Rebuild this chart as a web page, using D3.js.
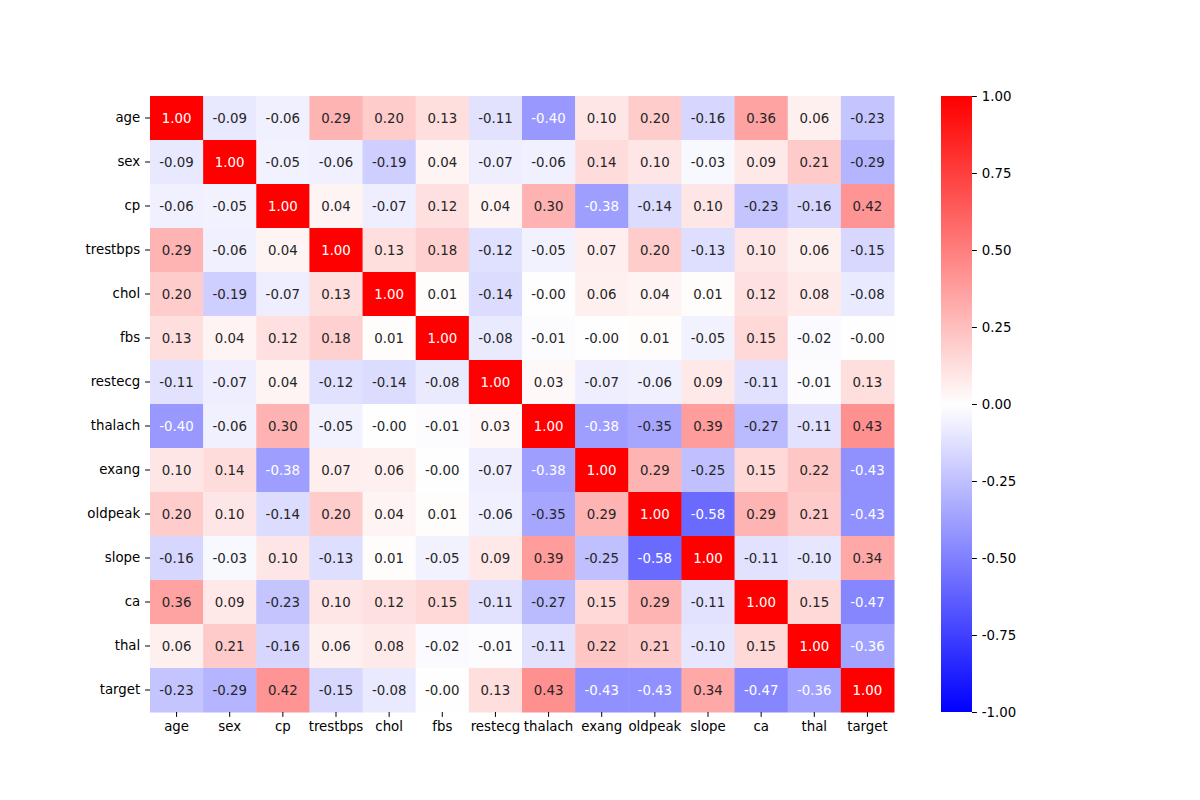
<!DOCTYPE html>
<html><head><meta charset="utf-8">
<script src="https://cdn.jsdelivr.net/npm/d3@7"></script>
<style>body{margin:0;background:#fff}svg{display:block}text{font-family:"DejaVu Sans",sans-serif}</style>
</head><body><svg id="c" width="1200" height="800"></svg>
<script>
const labels = ["age","sex","cp","trestbps","chol","fbs","restecg","thalach","exang","oldpeak","slope","ca","thal","target"];
// -0.004 etc. represent values displayed as "-0.00"
const rowAge      = [1.00,-0.09,-0.06,0.29,0.20,0.13,-0.11,-0.40,0.10,0.20,-0.16,0.36,0.06,-0.23];
const rowSex      = [-0.09,1.00,-0.05,-0.06,-0.19,0.04,-0.07,-0.06,0.14,0.10,-0.03,0.09,0.21,-0.29];
const rowCp       = [-0.06,-0.05,1.00,0.04,-0.07,0.12,0.04,0.30,-0.38,-0.14,0.10,-0.23,-0.16,0.42];
const rowTrestbps = [0.29,-0.06,0.04,1.00,0.13,0.18,-0.12,-0.05,0.07,0.20,-0.13,0.10,0.06,-0.15];
const rowChol     = [0.20,-0.19,-0.07,0.13,1.00,0.01,-0.14,-0.004,0.06,0.04,0.01,0.12,0.08,-0.08];
const rowFbs      = [0.13,0.04,0.12,0.18,0.01,1.00,-0.08,-0.01,-0.004,0.01,-0.05,0.15,-0.02,-0.004];
const rowRestecg  = [-0.11,-0.07,0.04,-0.12,-0.14,-0.08,1.00,0.03,-0.07,-0.06,0.09,-0.11,-0.01,0.13];
const rowThalach  = [-0.40,-0.06,0.30,-0.05,-0.004,-0.01,0.03,1.00,-0.38,-0.35,0.39,-0.27,-0.11,0.43];
const rowExang    = [0.10,0.14,-0.38,0.07,0.06,-0.004,-0.07,-0.38,1.00,0.29,-0.25,0.15,0.22,-0.43];
const rowOldpeak  = [0.20,0.10,-0.14,0.20,0.04,0.01,-0.06,-0.35,0.29,1.00,-0.58,0.29,0.21,-0.43];
const rowSlope    = [-0.16,-0.03,0.10,-0.13,0.01,-0.05,0.09,0.39,-0.25,-0.58,1.00,-0.11,-0.10,0.34];
const rowCa       = [0.36,0.09,-0.23,0.10,0.12,0.15,-0.11,-0.27,0.15,0.29,-0.11,1.00,0.15,-0.47];
const rowThal     = [0.06,0.21,-0.16,0.06,0.08,-0.02,-0.01,-0.11,0.22,0.21,-0.10,0.15,1.00,-0.36];
const rowTarget   = [-0.23,-0.29,0.42,-0.15,-0.08,-0.004,0.13,0.43,-0.43,-0.43,0.34,-0.47,-0.36,1.00];
const matrix = [rowAge,rowSex,rowCp,rowTrestbps,rowChol,rowFbs,rowRestecg,rowThalach,rowExang,rowOldpeak,rowSlope,rowCa,rowThal,rowTarget];
const cbarTicks = [1.00,0.75,0.50,0.25,0.00,-0.25,-0.50,-0.75,-1.00];

const svg = d3.select("#c");
const L = 150, R = 894, T = 96, B = 712;
const x = d3.scaleBand().domain(labels).range([L,R]).padding(0);
const y = d3.scaleBand().domain(labels).range([T,B]).padding(0);

// matplotlib bwr, N=256
function bwrRGB(v){
  const n = Math.max(0,Math.min(1,(v+1)/2));
  const idx = Math.min(255, Math.floor(n*256));
  const t = idx/255;
  let r,g,b;
  if(t<0.5){ r=g=t*2; b=1; } else { r=1; g=b=2*(1-t); }
  return [r,g,b];
}
function bwr(v){ const [r,g,b]=bwrRGB(v); return d3.rgb(r*255,g*255,b*255).toString(); }
function lum(v){
  const c = bwrRGB(v).map(u => u<=0.03928 ? u/12.92 : Math.pow((u+0.055)/1.055,2.4));
  return 0.2126*c[0]+0.7152*c[1]+0.0722*c[2];
}
function fmt(v){ return (v<0?"-":"") + Math.abs(v).toFixed(2); }

const cells = [];
matrix.forEach((row,i)=>row.forEach((v,j)=>cells.push({r:labels[i],c:labels[j],v})));

svg.append("g").selectAll("rect").data(cells).join("rect")
  .attr("x",d=>x(d.c)).attr("y",d=>y(d.r))
  .attr("width",x.bandwidth()+0.5).attr("height",y.bandwidth()+0.5)
  .attr("fill",d=>bwr(d.v));

svg.append("g").selectAll("text").data(cells).join("text")
  .attr("x",d=>x(d.c)+x.bandwidth()/2).attr("y",d=>y(d.r)+y.bandwidth()/2)
  .attr("text-anchor","middle").attr("dominant-baseline","central")
  .attr("font-size","13.33px")
  .attr("fill",d=>lum(d.v)>0.408 ? "#262626" : "#ffffff")
  .text(d=>fmt(d.v));

const ax = svg.append("g").attr("transform",`translate(0,${B})`)
  .call(d3.axisBottom(x).tickSize(4.9).tickPadding(4.9));
ax.select(".domain").remove();
const ay = svg.append("g").attr("transform",`translate(${L},0)`)
  .call(d3.axisLeft(y).tickSize(4.9).tickPadding(4.9));
ay.select(".domain").remove();
[ax,ay].forEach(a=>{
  a.selectAll("text").attr("font-size","13.33px").attr("fill","#000").attr("font-family","DejaVu Sans, sans-serif");
  a.selectAll("line").attr("stroke","#000").attr("stroke-width",1);
});

// colorbar
const cbL = 941, cbW = 31;
const cy = d3.scaleLinear().domain([-1,1]).range([B,T]);
const defs = svg.append("defs");
const grad = defs.append("linearGradient").attr("id","g").attr("x1",0).attr("x2",0).attr("y1",1).attr("y2",0);
d3.range(0,257,8).forEach(k=>{
  const v = -1 + 2*k/256;
  grad.append("stop").attr("offset",k/256).attr("stop-color",bwr(Math.min(v,0.999)));
});
svg.append("rect").attr("x",cbL).attr("y",T).attr("width",cbW).attr("height",B-T).attr("fill","url(#g)");
const ac = svg.append("g").attr("transform",`translate(${cbL+cbW},0)`)
  .call(d3.axisRight(cy).tickValues(cbarTicks).tickFormat(d=>fmt(d)).tickSize(4.9).tickPadding(4.9));
ac.select(".domain").remove();
ac.selectAll("text").attr("font-size","13.33px").attr("fill","#000").attr("font-family","DejaVu Sans, sans-serif");
ac.selectAll("line").attr("stroke","#000");
</script>
</body></html>
